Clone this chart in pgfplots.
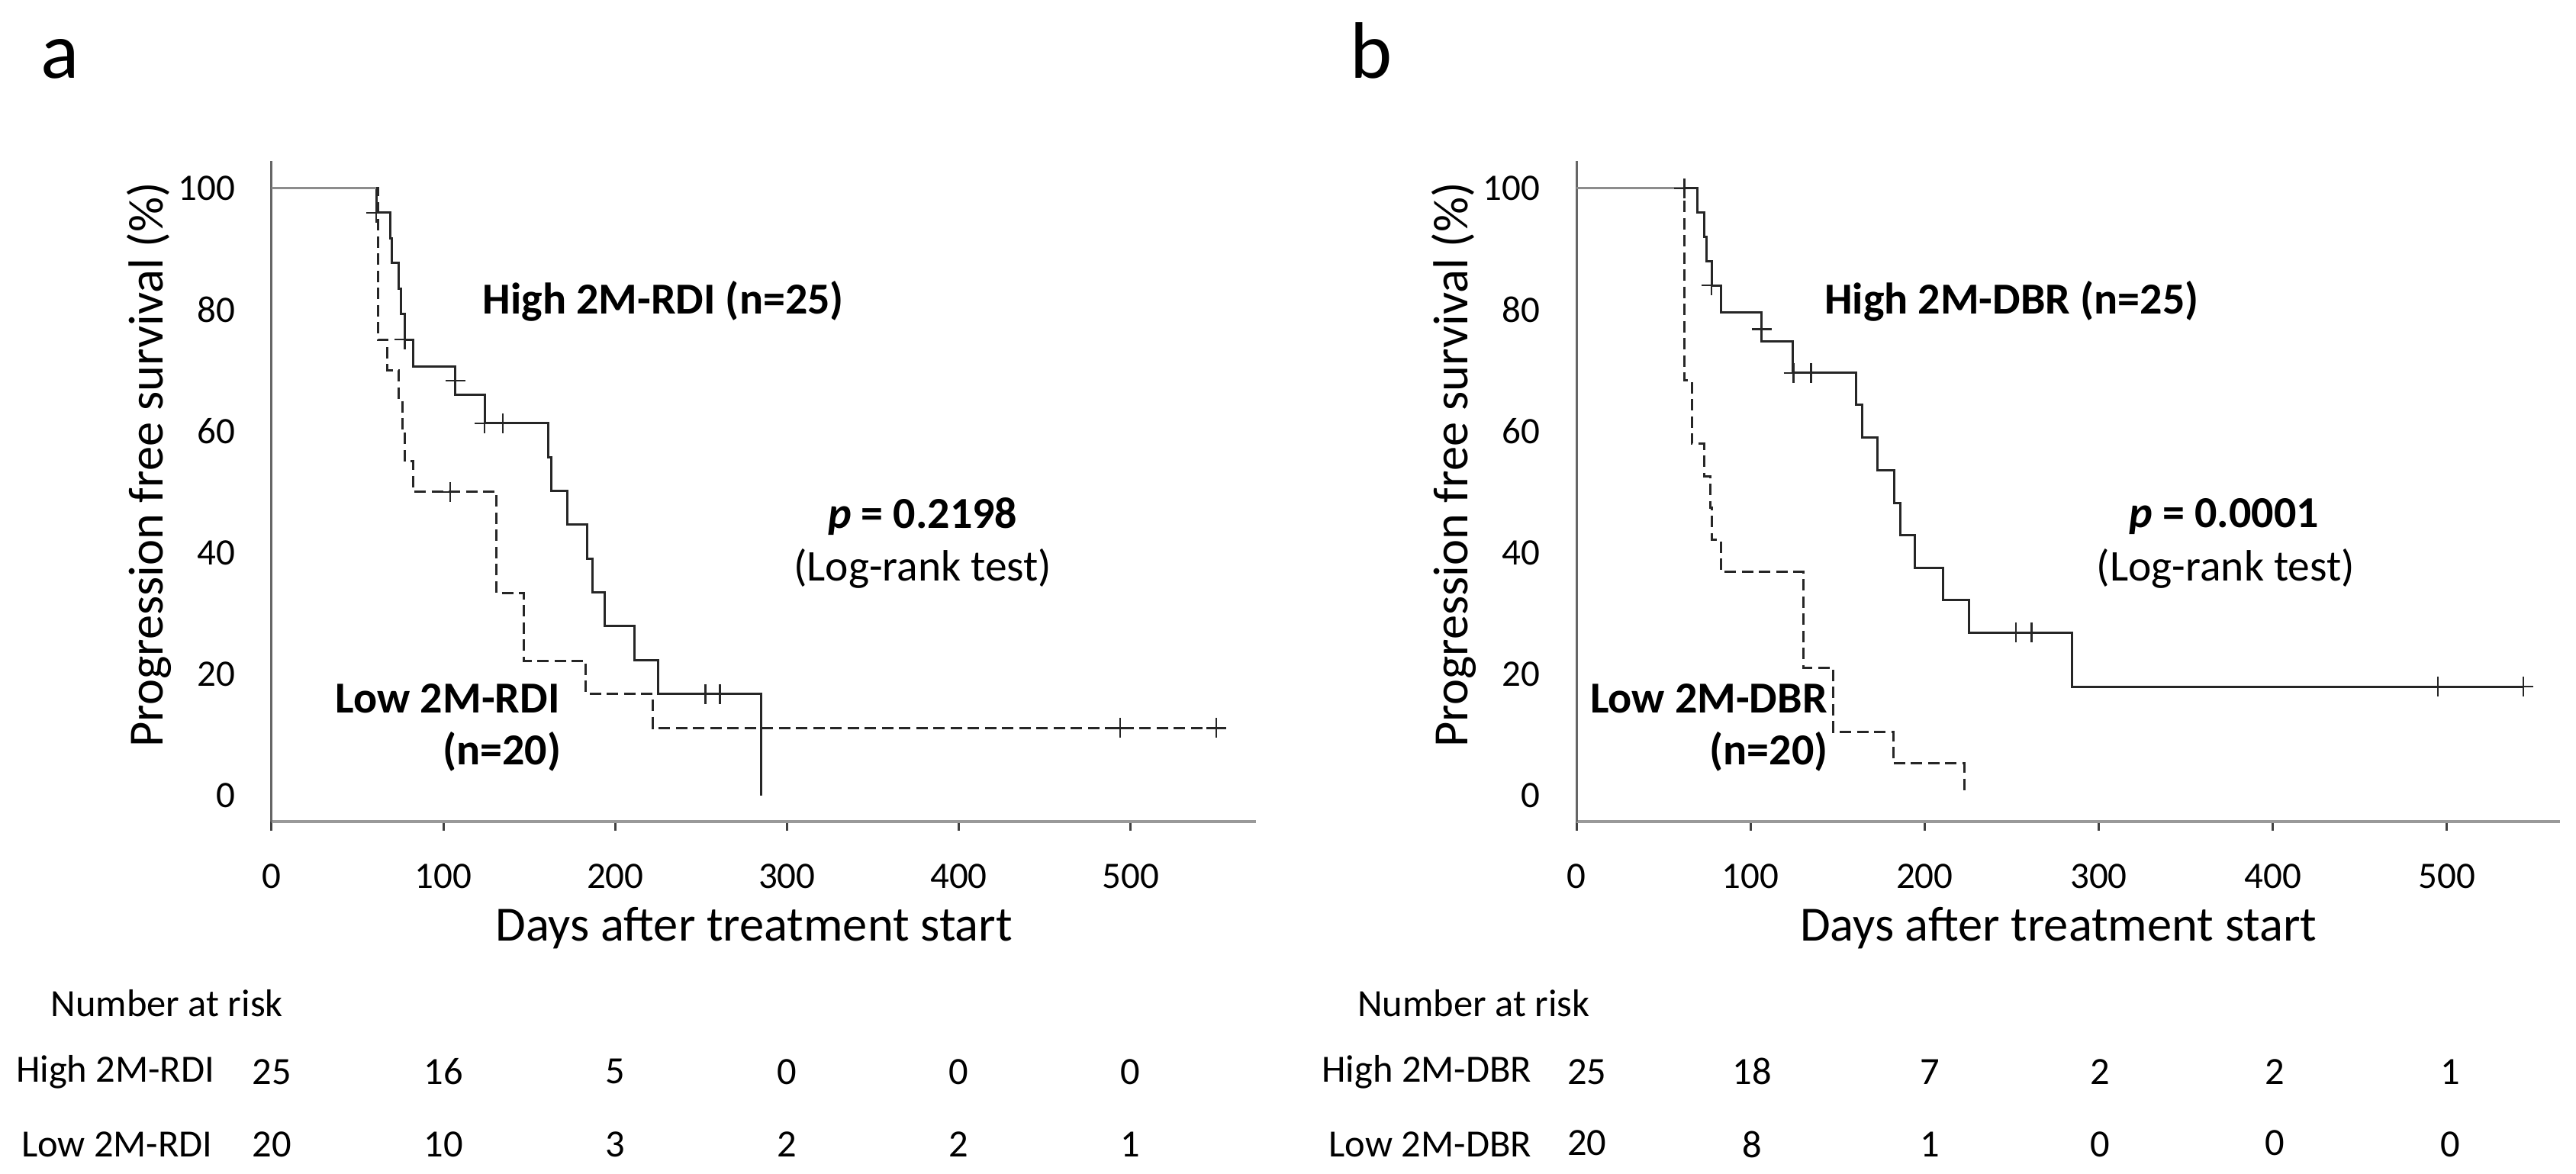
\documentclass[border=0pt]{standalone}
\usepackage{fontspec}
\setmainfont{Carlito}
\usepackage{pgfplots}
\pgfplotsset{compat=1.18}

\pgfplotsset{kmaxis/.style={
  scale only axis, width=258pt, height=173.2pt,
  xmin=0, ymin=-4.3, ymax=104.5,
  axis x line=bottom, axis y line=left,
  axis line style={-},
  x axis line style={black!40, line width=0.8pt},
  y axis line style={black!60, line width=0.6pt},
  xtick={0,100,200,300,400,500}, ytick={0,20,40,60,80,100},
  tick align=outside, major tick length=2.4pt,
  xtick style={black!75, line width=0.6pt},
  ytick style={draw=none},
  /pgf/number format/assume math mode=true,
  ticklabel style={font=\fontsize{9.8}{11}\selectfont, inner sep=0pt},
  xticklabel style={anchor=north, yshift=-8.5pt},
  yticklabel style={anchor=east, xshift=-7pt},
  label style={font=\fontsize{12.9}{15}\selectfont},
  xlabel={Days after treatment start},
  ylabel={Progression free survival (\%)},
  xlabel style={at={(axis description cs:0.49,-0.1617)}, anchor=center},
  ylabel style={at={(axis description cs:-0.1248,0.54)}, anchor=center},
  clip=false,
  anchor=south west,
}}
\tikzset{
  hi/.style={black!85, line width=0.6pt, const plot, mark=none},
  lo/.style={black!85, line width=0.6pt, const plot, mark=none, dash pattern=on 3pt off 1.5pt},
  cens/.style={only marks, mark=+, mark size=2.6pt, black!85, mark options={line width=0.45pt}},
  ann/.style={font=\bfseries\fontsize{11.6}{14}\selectfont},
  lr/.style={font=\fontsize{11.5}{14}\selectfont},
  tab/.style={font=\fontsize{10.1}{12}\selectfont},
}

\begin{document}
\begin{tikzpicture}
\path[use as bounding box] (0pt,0pt) rectangle (675.2pt,307.8pt);
\node[anchor=base west, font=\fontsize{21}{24}\selectfont, inner sep=0pt] at (10.4pt,287.2pt) {a};
\node[anchor=base west, font=\fontsize{21}{24}\selectfont, inner sep=0pt] at (353.6pt,287.2pt) {b};

% ---------------- panel a ----------------
\begin{axis}[kmaxis, at={(71.2pt,92.4pt)}, xmax=573]
\addplot[hi] coordinates {(0,100)(61,96)(69,91.8)(70,87.7)(74,83.5)(75.5,79.3)(77.5,75.1)(82.5,70.7)(107,66.0)(124,61.3)(161,55.7)(163,50.1)(172,44.6)(183.5,39.0)(187,33.4)(194,27.9)(211,22.3)(225,16.7)(285,0)};
\addplot[lo] coordinates {(0,100)(62,75)(67.5,70)(74,65)(76,60)(77.5,55)(82.5,50)(131,33.3)(147,22.2)(183,16.7)(222,11.1)(550,11.1)};
\addplot[black!45, line width=0.6pt] coordinates {(0,100)(61,100)};
\addplot[cens] coordinates {(61,96)(77.5,75.1)(107,68.3)(124,61.3)(134.5,61.3)(252.5,16.7)(261,16.7)};
\addplot[cens] coordinates {(104,50)(494,11.1)(550,11.1)};
\node[ann] at (axis cs:228,81.4) {High 2M-RDI (n=25)};
\node[ann] at (axis cs:379,46) {\textit{p} = 0.2198};
\node[lr] at (axis cs:379,37.3) {(Log-rank test)};
\node[ann] at (axis cs:102.5,16) {Low 2M-RDI};
\node[ann] at (axis cs:134,7.2) {(n=20)};
\node[tab] at (axis cs:-61,-34.2) {Number at risk};
\node[tab] at (axis cs:-91,-45.5) {High 2M-RDI};
\node[tab] at (axis cs:-90,-57.5) {Low 2M-RDI};
\node[tab] at (axis cs:0,-45.5) {25};
\node[tab] at (axis cs:100,-45.5) {16};
\node[tab] at (axis cs:200,-45.5) {5};
\node[tab] at (axis cs:300,-45.5) {0};
\node[tab] at (axis cs:400,-45.5) {0};
\node[tab] at (axis cs:500,-45.5) {0};
\node[tab] at (axis cs:0,-57.5) {20};
\node[tab] at (axis cs:100,-57.5) {10};
\node[tab] at (axis cs:200,-57.5) {3};
\node[tab] at (axis cs:300,-57.5) {2};
\node[tab] at (axis cs:400,-57.5) {2};
\node[tab] at (axis cs:500,-57.5) {1};
\end{axis}

% ---------------- panel b ----------------
\begin{axis}[kmaxis, at={(413.2pt,92.4pt)}, xmax=565, width=257.8pt]
\addplot[hi] coordinates {(0,100)(69.3,96)(73.3,92)(74.6,88)(77.6,84)(83.1,79.5)(106.5,74.8)(124.2,69.6)(160.7,64.3)(164.2,58.9)(172.8,53.6)(182.6,48.2)(185.9,42.9)(194.2,37.5)(210.6,32.2)(225.7,26.8)(284.9,17.9)(544,17.9)};
\addplot[lo] coordinates {(0,100)(61.8,68.4)(66.2,57.9)(73.3,52.6)(76.8,47.4)(78,42.1)(83.1,36.8)(130.5,21.05)(147.6,10.5)(182,5.26)(223,0)};
\addplot[black!45, line width=0.6pt] coordinates {(0,100)(62,100)};
\addplot[cens] coordinates {(77.6,84)(106.5,76.8)(124.7,69.6)(134.8,69.6)(252.6,26.8)(261.5,26.8)(495,17.9)(544,17.9)};
\addplot[cens] coordinates {(62,100)};
\node[ann] at (axis cs:250,81.4) {High 2M-DBR (n=25)};
\node[ann] at (axis cs:372,46) {\textit{p} = 0.0001};
\node[lr] at (axis cs:373,37.3) {(Log-rank test)};
\node[ann] at (axis cs:76,16) {Low 2M-DBR};
\node[ann] at (axis cs:110.5,7.2) {(n=20)};
\node[tab] at (axis cs:-59,-34.2) {Number at risk};
\node[tab] at (axis cs:-86,-45.5) {High 2M-DBR};
\node[tab] at (axis cs:-84,-57.5) {Low 2M-DBR};
\node[tab] at (axis cs:6,-45.5) {25};
\node[tab] at (axis cs:101,-45.5) {18};
\node[tab] at (axis cs:203,-45.5) {7};
\node[tab] at (axis cs:301,-45.5) {2};
\node[tab] at (axis cs:401,-45.5) {2};
\node[tab] at (axis cs:502,-45.5) {1};
\node[tab] at (axis cs:6,-57.2) {20};
\node[tab] at (axis cs:101,-57.5) {8};
\node[tab] at (axis cs:203,-57.5) {1};
\node[tab] at (axis cs:301,-57.5) {0};
\node[tab] at (axis cs:401,-57.2) {0};
\node[tab] at (axis cs:502,-57.5) {0};
\end{axis}
\end{tikzpicture}
\end{document}
